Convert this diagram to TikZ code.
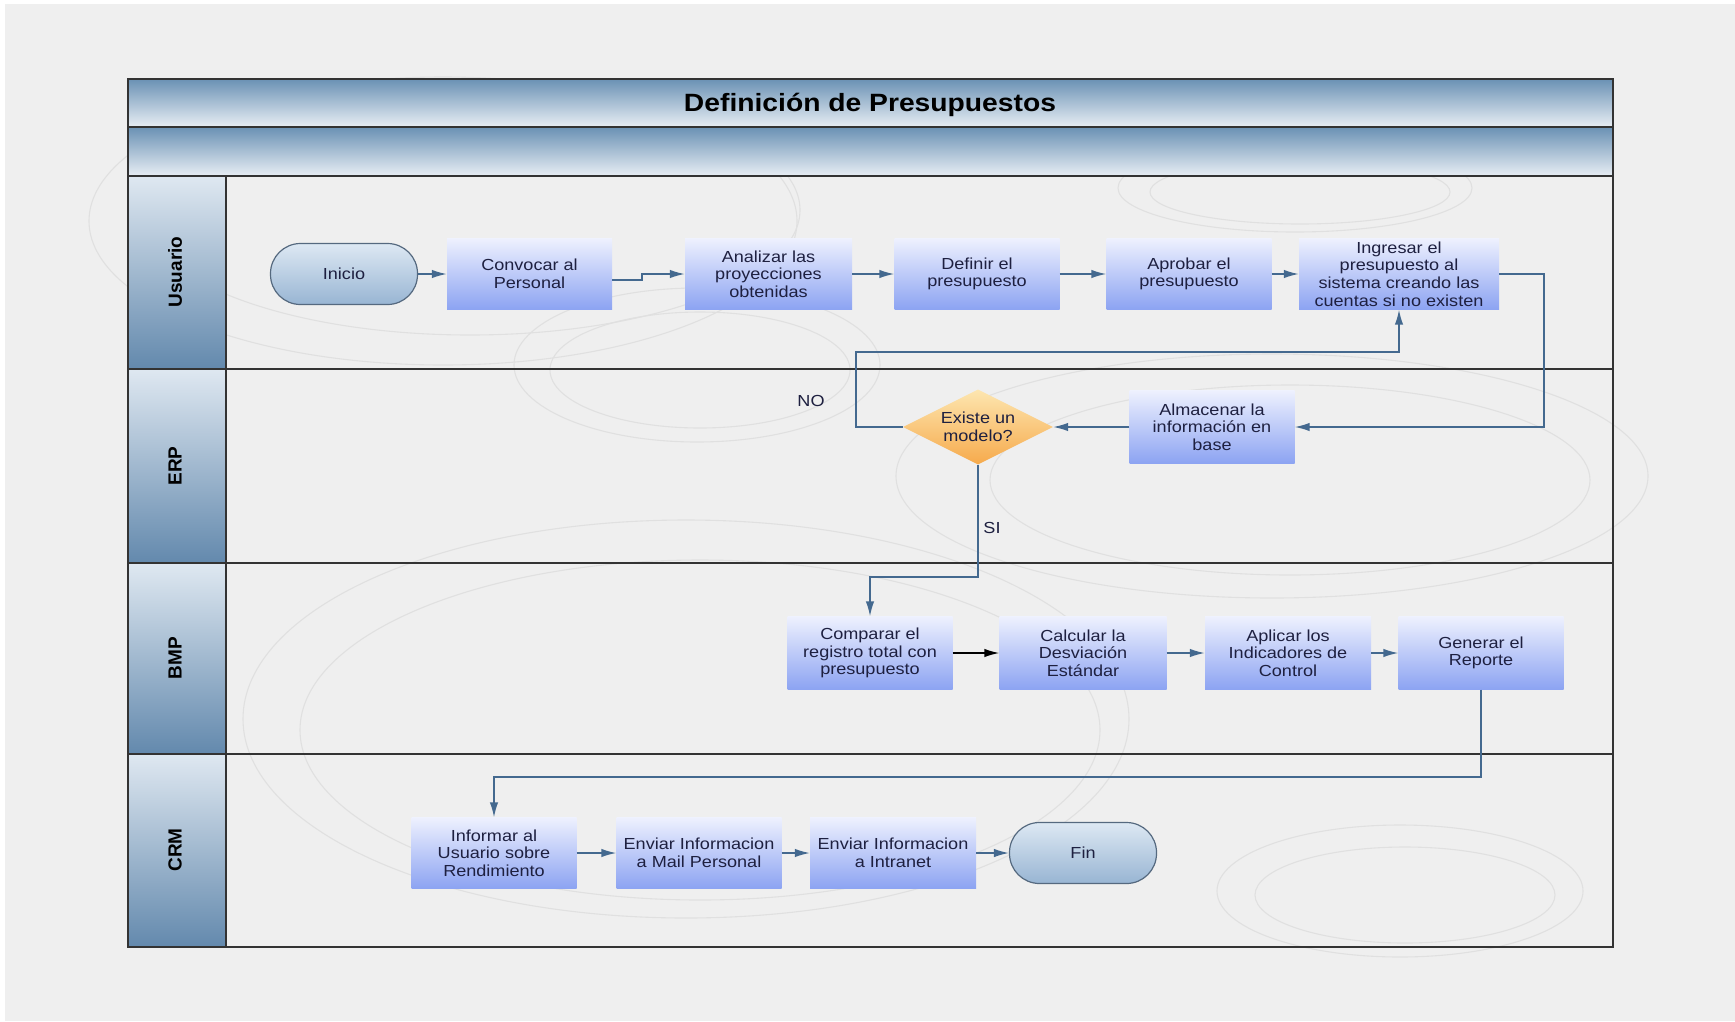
\documentclass[tikz,border=0pt]{standalone}
\usepackage{fontspec}
\setmainfont{Liberation Sans}
\newfontfamily\wfont[FakeStretch=1.13]{Liberation Sans}
\usetikzlibrary{arrows.meta,shapes.geometric,calc}

\definecolor{pagebg}{HTML}{EFEFEF}
\definecolor{flow}{HTML}{44698F}
\definecolor{boxtop}{HTML}{EEF1FE}
\definecolor{boxbot}{HTML}{8CA3F2}
\definecolor{ink}{HTML}{1E2040}
\definecolor{bandtop}{HTML}{6A91B4}
\definecolor{bandbot}{HTML}{E8EEF4}
\definecolor{lanetop}{HTML}{DFE8F1}
\definecolor{lanebot}{HTML}{6389AD}
\definecolor{termtop}{HTML}{DDE8F3}
\definecolor{termbot}{HTML}{98B5D3}
\definecolor{termline}{HTML}{55697F}
\definecolor{dectop}{HTML}{FDE6B0}
\definecolor{decbot}{HTML}{F6AA4C}
\definecolor{framecol}{HTML}{333333}
\definecolor{swirl}{HTML}{E0E0E0}

\tikzset{
  txt/.style={text=ink, font=\wfont\fontsize{16}{17.7}\selectfont, align=center},
  stepbox/.style={txt, rectangle, draw=none, top color=boxtop, bottom color=boxbot,
    minimum width=165, minimum height=71, inner sep=2},
  termbox/.style={txt, rectangle, rounded corners=30, draw=termline, line width=1.2,
    top color=termtop, bottom color=termbot, minimum width=147, minimum height=61},
  decision/.style={txt, diamond, aspect=2, inner sep=0, draw=none,
    top color=dectop, bottom color=decbot, minimum width=150, minimum height=75},
  lanelabel/.style={rotate=90, text=black, font=\bfseries\fontsize{19}{22}\selectfont},
  flowline/.style={draw=flow, line width=1.5, -{Latex[length=15, width=8.5]}},
  framerule/.style={draw=framecol, line width=2},
  swirlline/.style={draw=swirl, line width=1.1}
}

\begin{document}
\begin{tikzpicture}[x=1pt, y=-1pt]
\useasboundingbox (0,0) rectangle (1735,1021);
\fill[white] (0,0) rectangle (1735,1021);
\fill[pagebg] (5,4) rectangle (1735,1021);

% faint decorative swirls in the background
\draw[swirlline] (443,221) ellipse [x radius=354, y radius=144];
\draw[swirlline] (470,210) ellipse [x radius=330, y radius=125];
\draw[swirlline] (697,365) ellipse [x radius=183, y radius=77];
\draw[swirlline] (700,370) ellipse [x radius=150, y radius=58];
\draw[swirlline] (1272,476) ellipse [x radius=376, y radius=122];
\draw[swirlline] (1290,480) ellipse [x radius=300, y radius=95];
\draw[swirlline] (686,719) ellipse [x radius=443, y radius=199];
\draw[swirlline] (700,730) ellipse [x radius=400, y radius=170];
\draw[swirlline] (1400,891) ellipse [x radius=183, y radius=66];
\draw[swirlline] (1405,895) ellipse [x radius=150, y radius=48];
\draw[swirlline] (1295,188) ellipse [x radius=177, y radius=44];
\draw[swirlline] (1300,192) ellipse [x radius=150, y radius=32];

% header bands
\shade[top color=bandtop, bottom color=bandbot] (128,79) rectangle (1613,127);
\shade[top color=bandtop, bottom color=bandbot] (128,127) rectangle (1613,176);
\node[font=\wfont\bfseries\fontsize{25}{29}\selectfont, text=black] (title) at (870,105) {Definición de Presupuestos};

% lane label columns
\shade[top color=lanetop, bottom color=lanebot] (128,176) rectangle (226,368.5);
\shade[top color=lanetop, bottom color=lanebot] (128,368.5) rectangle (226,563);
\shade[top color=lanetop, bottom color=lanebot] (128,563) rectangle (226,753.5);
\shade[top color=lanetop, bottom color=lanebot] (128,753.5) rectangle (226,947);
\node[lanelabel] (lusuario) at (175,272) {Usuario};
\node[lanelabel] (lerp) at (175,466) {ERP};
\node[lanelabel] (lbmp) at (175,658) {BMP};
\node[lanelabel] (lcrm) at (175,850) {CRM};

% pool frame and lane rules
\draw[framerule] (128,79) rectangle (1613,947);
\foreach \yy in {127,176,368.5,563,753.5}
  \draw[framerule] (128,\yy) -- (1613,\yy);
\draw[framerule] (226,176) -- (226,947);

% lane Usuario
\node[termbox] (inicio) at (344,274) {Inicio};
\node[stepbox] (convocar) at (529.5,274) {Convocar al\\Personal};
\node[stepbox, minimum width=167] (analizar) at (768.5,274) {Analizar las\\proyecciones\\obtenidas};
\node[stepbox] (definir) at (977,274) {Definir el\\presupuesto};
\node[stepbox] (aprobar) at (1189,274) {Aprobar el\\presupuesto};
\node[stepbox, minimum width=200] (ingresar) at (1399,274) {Ingresar el\\presupuesto al\\sistema creando las\\cuentas si no existen};

% lane ERP
\node[stepbox, minimum height=73] (almacenar) at (1212,427) {Almacenar la\\información en\\base};
\node[decision] (modelo) at (978,427) {Existe un\\modelo?};
\node[txt] (lno) at (811,401) {NO};
\node[txt] (lsi) at (992,528) {SI};

% lane BMP
\node[stepbox, minimum height=73] (comparar) at (870,653) {Comparar el\\registro total con\\presupuesto};
\node[stepbox, minimum height=73, minimum width=167] (calcular) at (1083,653) {Calcular la\\Desviación\\Estándar};
\node[stepbox, minimum height=73, minimum width=166] (aplicar) at (1288,653) {Aplicar los\\Indicadores de\\Control};
\node[stepbox, minimum height=73] (generar) at (1481,653) {Generar el\\Reporte};

% lane CRM
\node[stepbox] (informar) at (494,853) {Informar al\\Usuario sobre\\Rendimiento};
\node[stepbox] (mail) at (699,853) {Enviar Informacion\\a Mail Personal};
\node[stepbox, minimum width=166] (intranet) at (893,853) {Enviar Informacion\\a Intranet};
\node[termbox] (fin) at (1083,853) {Fin};

% bend points
\coordinate (jog) at (642,280);
\coordinate (rturn) at (1544,274);
\coordinate (noturn) at (856,352);
\coordinate (siturn) at (978,577);
\coordinate (repturn) at (1481,777);

% connectors
\draw[flowline] (inicio) -- (convocar);
\draw[flowline] (convocar.east |- jog) -- (jog) -- (jog |- analizar.west) -- (analizar.west);
\draw[flowline] (analizar) -- (definir);
\draw[flowline] (definir) -- (aprobar);
\draw[flowline] (aprobar) -- (ingresar);
\draw[flowline] (ingresar.east) -- (rturn) |- (almacenar.east);
\draw[flowline] (almacenar) -- (modelo);
\draw[flowline] (modelo.west) -| (noturn) -| (ingresar.south);
\draw[flowline] (modelo.south) -- (siturn) -| (comparar.north);
\draw[flowline, draw=black] (comparar) -- (calcular);
\draw[flowline] (calcular) -- (aplicar);
\draw[flowline] (aplicar) -- (generar);
\draw[flowline] (generar.south) -- (repturn) -| (informar.north);
\draw[flowline] (informar) -- (mail);
\draw[flowline] (mail) -- (intranet);
\draw[flowline] (intranet) -- (fin);
\end{tikzpicture}
\end{document}
